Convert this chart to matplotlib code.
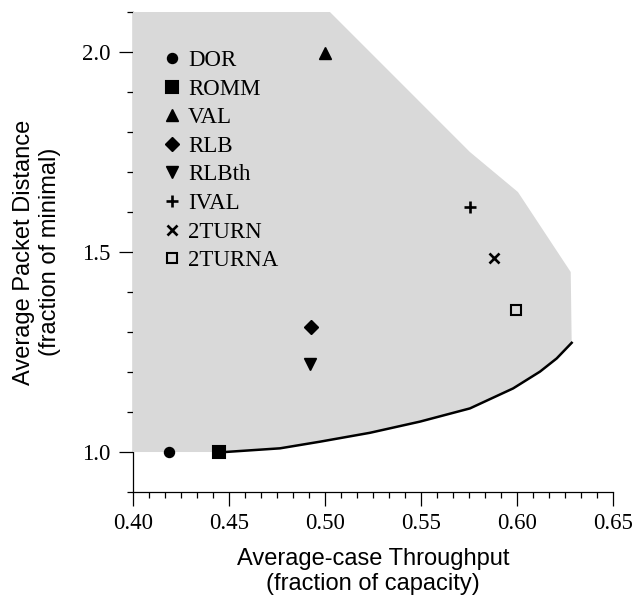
#!/usr/bin/env python3
import numpy as np
import matplotlib
matplotlib.use("Agg")
import matplotlib.pyplot as plt
from matplotlib.ticker import MultipleLocator, AutoMinorLocator, FormatStrFormatter

# ------------------------- data -------------------------
names = ["DOR", "ROMM", "VAL", "RLB", "RLBth", "IVAL", "2TURN", "2TURNA"]
throughput = [0.419, 0.445, 0.500, 0.4925, 0.492, 0.5755, 0.588, 0.5995]
distance = [1.000, 1.000, 1.997, 1.3125, 1.220, 1.613, 1.484, 1.356]

# lower bound curve (optimal tradeoff)
curve_x = [0.445, 0.448, 0.4766, 0.4974, 0.5234, 0.5495, 0.5755, 0.598, 0.612, 0.6207, 0.6285]
curve_y = [1.000, 1.000, 1.0092, 1.0258, 1.048, 1.076, 1.109, 1.159, 1.201, 1.234, 1.273]

# upper-right edge of the feasible region
edge_x = [0.628, 0.6005, 0.5755, 0.5026, 0.40, 0.40]
edge_y = [1.45, 1.65, 1.75, 2.10, 2.10, 1.00]

# marker styles (sizes in points)
markers = ["o", "s", "^", "D", "v", "+", "x", "s"]
msizes = [7.2, 8.2, 8.4, 7.0, 8.4, 8.0, 6.5, 7.8]
filled = [True, True, True, True, True, True, True, False]

serif = "Liberation Serif"
sans = "Liberation Sans"

fig = plt.figure(figsize=(6.35, 5.95), dpi=100)
ax = fig.add_axes([0.2094, 0.1731, 0.7559, 0.8067])

# shaded region: curve then edge back round
poly_x = curve_x + edge_x
poly_y = curve_y + edge_y
ax.fill(poly_x, poly_y, color="#d9d9d9", lw=0, zorder=3)
ax.plot(curve_x, curve_y, color="black", lw=1.8, zorder=4)

for n, x, y, m, s, f in zip(names, throughput, distance, markers, msizes, filled):
    ax.plot([x], [y], linestyle="none", marker=m, markersize=s,
            color="black", markerfacecolor="black" if f else "none",
            markeredgewidth=1.9 if m in "+x" else (1.5 if m == "s" else 1.0),
            label=n, zorder=5)

ax.set_xlim(0.40, 0.65)
ax.set_ylim(0.9, 2.1)
ax.xaxis.set_major_locator(MultipleLocator(0.05))
ax.xaxis.set_minor_locator(AutoMinorLocator(6))
ax.yaxis.set_major_locator(MultipleLocator(0.5))
ax.yaxis.set_minor_locator(MultipleLocator(0.1))
ax.xaxis.set_major_formatter(FormatStrFormatter("%.2f"))
ax.yaxis.set_major_formatter(FormatStrFormatter("%.1f"))

for side in ["top", "right"]:
    ax.spines[side].set_visible(False)
for side in ["left", "bottom"]:
    ax.spines[side].set_linewidth(0.9)

ax.tick_params(which="major", direction="out", length=10, width=0.9, pad=5)
ax.tick_params(which="minor", direction="out", length=4, width=0.9)
ax.tick_params(axis="y", which="major", pad=6)
for lab in ax.get_xticklabels() + ax.get_yticklabels():
    lab.set_fontfamily(serif)
    lab.set_fontsize(16.5)

ax.set_xlabel("Average-case Throughput\n(fraction of capacity)", fontfamily=sans,
              fontsize=17, labelpad=10, linespacing=1.2)
ax.set_ylabel("Average Packet Distance\n(fraction of minimal)", fontfamily=sans,
              fontsize=17, labelpad=15.5, linespacing=1.2)

leg = ax.legend(loc="upper left", bbox_to_anchor=(0.045, 0.94), frameon=False,
                prop={"family": serif, "size": 16.5}, handlelength=0.7,
                handletextpad=0.35, labelspacing=0.33, borderaxespad=0.0,
                numpoints=1)
leg.set_zorder(6)

fig.savefig("out.png", dpi=100)
